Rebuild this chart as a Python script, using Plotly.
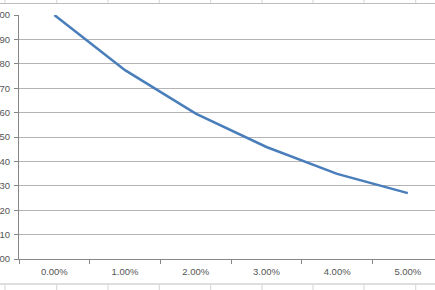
import plotly.graph_objects as go

categories = ["0.00%", "1.00%", "2.00%", "3.00%", "4.00%", "5.00%"]
values = [1.00, 0.774, 0.596, 0.459, 0.349, 0.270]
y_ticks = [0.0, 0.1, 0.2, 0.3, 0.4, 0.5, 0.6, 0.7, 0.8, 0.9, 1.0]

W, H = 435, 290
ML, MR, MT, MB = 19, 0, 15, 31
PW, PH = W - ML - MR, H - MT - MB

def px_x(px):
    return (px - ML) / PW

def px_y(py):
    return (H - MB - py) / PH

fig = go.Figure()
fig.add_trace(go.Scatter(
    x=categories, y=values, mode="lines",
    line=dict(color="#4a7ebb", width=2.5),
    hoverinfo="skip", showlegend=False,
))

shapes = []
cell_line = dict(color="#d4d4d4", width=1)
border_line = dict(color="#bdbdbd", width=1)
# spreadsheet cell borders above and below the chart object
shapes.append(dict(type="line", xref="paper", yref="paper",
                   x0=px_x(0), x1=px_x(W), y0=px_y(3.5), y1=px_y(3.5), line=border_line))
shapes.append(dict(type="line", xref="paper", yref="paper",
                   x0=px_x(0), x1=px_x(W), y0=px_y(284), y1=px_y(284), line=border_line))
for cx in [5, 56.7, 108, 159.3, 210.7, 262, 313, 364, 415.7]:
    shapes.append(dict(type="line", xref="paper", yref="paper",
                       x0=px_x(cx), x1=px_x(cx), y0=px_y(0), y1=px_y(3), line=cell_line))
    shapes.append(dict(type="line", xref="paper", yref="paper",
                       x0=px_x(cx), x1=px_x(cx), y0=px_y(284.5), y1=px_y(H), line=cell_line))

fig.update_layout(
    width=W, height=H,
    margin=dict(l=ML, r=MR, t=MT, b=MB, pad=0),
    paper_bgcolor="white", plot_bgcolor="white",
    font=dict(family="Liberation Sans, Arial, sans-serif", size=9.5, color="#555555"),
    shapes=shapes,
    xaxis=dict(
        type="category", categoryorder="array", categoryarray=categories,
        range=[-0.5, -0.5 + PW / 70.7],
        tickson="boundaries", ticks="outside", ticklen=4, tickcolor="#868686",
        showgrid=False, showline=True, linecolor="#868686", linewidth=1,
        automargin=False, ticklabelstandoff=4,
    ),
    yaxis=dict(
        range=[0, 1], tickvals=y_ticks, tickformat=".2f",
        ticks="outside", ticklen=4, tickcolor="#868686",
        showgrid=True, gridcolor="#b4b4b4", gridwidth=1,
        showline=True, linecolor="#868686", linewidth=1,
        zeroline=False, automargin=False, ticklabelstandoff=2,
    ),
)

fig.write_html("out.html")
